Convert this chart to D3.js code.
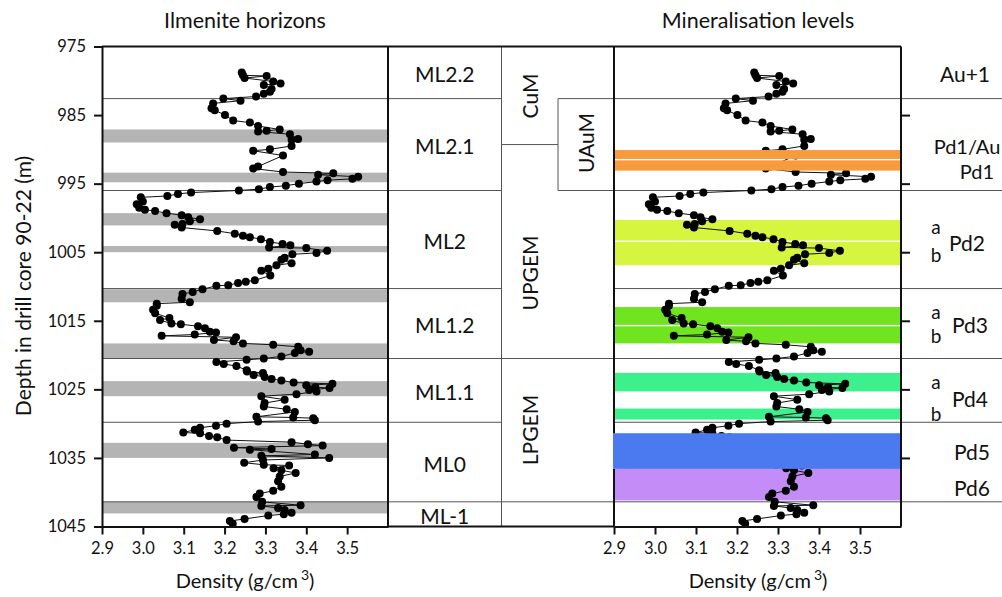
<!DOCTYPE html>
<html>
<head>
<meta charset="utf-8">
<script src="https://cdn.jsdelivr.net/npm/d3@7"></script>
<style>
  body { margin: 0; background: #fff; }
  text { font-family: Lato, "Open Sans", sans-serif; fill: #111; }
</style>
</head>
<body>
<div id="chart"></div>
<script>
// density profile (depth in m, density in g/cm3)
let depth = [978.8, 979.2, 979.3, 979.6, 980.1, 980.4, 980.6, 981.2, 981.6, 981.9, 982.3, 982.6, 982.9, 983.3, 984.0, 984.3,
  985.0, 985.8, 986.1, 986.6, 987.1, 987.3, 987.4, 987.8, 988.5, 988.6, 989.5, 990.0, 990.2, 990.9, 992.5, 992.8,
  993.3, 993.5, 993.7, 994.0, 994.3, 994.5, 994.7, 995.0, 995.3, 995.5, 995.8, 996.0, 996.3, 996.5, 996.8, 997.0,
  997.6, 998.0, 998.5, 998.8, 999.0, 999.3, 999.6, 999.9, 1000.2, 1000.5, 1000.9, 1001.0, 1001.4, 1001.9, 1002.3, 1002.6,
  1002.8, 1003.1, 1003.5, 1003.8, 1004.0, 1004.3, 1004.4, 1004.8, 1005.1, 1005.3, 1005.8, 1006.1, 1006.6, 1006.9, 1007.4, 1007.7,
  1008.4, 1009.1, 1009.3, 1009.5, 1009.8, 1009.9, 1010.4, 1010.8, 1011.1, 1011.8, 1012.3, 1012.5, 1012.8, 1013.4, 1013.9, 1014.6,
  1014.9, 1015.4, 1015.5, 1015.8, 1016.1, 1016.6, 1016.7, 1017.0, 1017.2, 1017.4, 1017.8, 1018.0, 1018.3, 1018.5, 1018.8, 1019.3,
  1019.5, 1019.7, 1020.2, 1020.5, 1020.7, 1021.0, 1021.3, 1021.6, 1022.2, 1022.4, 1022.6, 1022.9, 1023.2, 1023.5, 1023.7, 1024.0,
  1024.2, 1024.4, 1024.7, 1024.8, 1025.1, 1025.3, 1025.7, 1026.0, 1026.5, 1027.0, 1027.5, 1027.9, 1028.3, 1029.0, 1029.1, 1029.2,
  1029.5, 1029.7, 1030.0, 1030.3, 1030.6, 1030.9, 1031.3, 1031.4, 1031.8, 1032.0, 1032.4, 1032.7, 1033.0, 1033.2, 1033.5, 1033.7,
  1033.8, 1034.5, 1034.7, 1035.0, 1035.3, 1035.7, 1036.0, 1036.1, 1036.5, 1036.8, 1037.2, 1037.7, 1038.4, 1039.2, 1039.8, 1040.2,
  1040.7, 1041.4, 1041.9, 1042.0, 1042.3, 1042.6, 1043.0, 1043.2, 1043.4, 1043.9, 1044.2, 1044.6];
let density = [3.242, 3.245, 3.303, 3.249, 3.319, 3.337, 3.296, 3.315, 3.311, 3.296, 3.277, 3.197, 3.239, 3.172, 3.168, 3.176,
  3.201, 3.221, 3.262, 3.282, 3.335, 3.303, 3.282, 3.360, 3.380, 3.364, 3.364, 3.311, 3.270, 3.343, 3.282, 3.270,
  3.343, 3.466, 3.429, 3.527, 3.513, 3.452, 3.425, 3.382, 3.350, 3.311, 3.284, 3.235, 3.118, 3.086, 3.060, 2.995,
  3.000, 2.985, 2.991, 3.005, 3.030, 3.058, 3.095, 3.111, 3.140, 3.115, 3.097, 3.078, 3.095, 3.182, 3.225, 3.245,
  3.262, 3.289, 3.311, 3.342, 3.361, 3.309, 3.400, 3.451, 3.425, 3.366, 3.347, 3.339, 3.364, 3.327, 3.307, 3.290,
  3.312, 3.274, 3.252, 3.233, 3.209, 3.180, 3.146, 3.122, 3.097, 3.095, 3.115, 3.034, 3.034, 3.025, 3.030, 3.065,
  3.042, 3.070, 3.093, 3.135, 3.152, 3.164, 3.179, 3.127, 3.046, 3.228, 3.174, 3.222, 3.245, 3.319, 3.380, 3.386,
  3.407, 3.372, 3.339, 3.296, 3.254, 3.180, 3.198, 3.229, 3.254, 3.255, 3.294, 3.271, 3.298, 3.315, 3.339, 3.369,
  3.464, 3.400, 3.422, 3.457, 3.407, 3.425, 3.376, 3.290, 3.347, 3.298, 3.296, 3.352, 3.372, 3.278, 3.368, 3.417,
  3.421, 3.282, 3.205, 3.179, 3.140, 3.127, 3.099, 3.140, 3.162, 3.182, 3.205, 3.364, 3.404, 3.440, 3.223, 3.315,
  3.262, 3.421, 3.290, 3.456, 3.294, 3.248, 3.296, 3.358, 3.320, 3.339, 3.374, 3.335, 3.331, 3.339, 3.319, 3.286,
  3.278, 3.292, 3.386, 3.290, 3.331, 3.347, 3.364, 3.345, 3.307, 3.249, 3.213, 3.220];

let depthTicks = [975, 985, 995, 1005, 1015, 1025, 1035, 1045];
let densityTicks = [2.9, 3.0, 3.1, 3.2, 3.3, 3.4, 3.5];
let rightTicks = [985, 995, 1005, 1015, 1025, 1035];

// ilmenite horizons (grey bands), top/bottom depth
let ilmTop = [987.1, 993.4, 999.3, 1004.1, 1010.4, 1018.3, 1023.8, 1032.8, 1041.4];
let ilmBottom = [989.0, 994.8, 1001.1, 1005.0, 1012.3, 1020.5, 1026.0, 1035.0, 1043.1];

// magnetite layer units
let mlNames = ["ML2.2", "ML2.1", "ML2", "ML1.2", "ML1.1", "ML0", "ML-1"];
let mlTop = [975, 982.6, 996.0, 1010.3, 1020.5, 1029.8, 1041.4];
let mlBottom = [982.6, 996.0, 1010.3, 1020.5, 1029.8, 1041.4, 1045];

// mineralisation levels (coloured bands)
let levelTop = [1000.3, 1003.5, 1013.0, 1015.8, 1022.6, 1027.8, 1036.6];
let levelBottom = [1003.3, 1006.9, 1015.6, 1018.3, 1025.3, 1029.4, 1041.2];
let levelColor = ["#d5f53e", "#d5f53e", "#70e41e", "#70e41e", "#3cf08e", "#3cf08e", "#c38cf6"];
let topLevelTop = [990.1, 991.6, 1031.4];
let topLevelBottom = [991.4, 993.1, 1036.6];
let topLevelColor = ["#f89b3c", "#f89b3c", "#4a79f0"];

let svgWidth = 1002;
let svgHeight = 597;

let svg = d3.select("#chart")
  .append("svg")
  .attr("width", svgWidth)
  .attr("height", svgHeight);

let top0 = 46.5, bottom0 = 526.5;
let leftX0 = 102, leftX1 = 388;
let midX1 = 501.5, uauX = 558;
let rightX0 = 614, rightX1 = 901;

let y = d3.scaleLinear().domain([975, 1045]).range([top0, bottom0]);
let xLeft = d3.scaleLinear().domain([2.9, 3.6]).range([leftX0, leftX1]);
let xRight = d3.scaleLinear().domain([2.9, 3.6]).range([rightX0, rightX1]);

let points = depth.map((d, i) => ({ depth: d, density: density[i] }));

function hline(x0, x1, d, w) {
  svg.append("line")
    .attr("x1", x0).attr("x2", x1)
    .attr("y1", y(d)).attr("y2", y(d))
    .attr("stroke", w ? "#111" : "#555")
    .attr("stroke-width", w || 1);
}
function vline(x, d0, d1, w) {
  svg.append("line")
    .attr("x1", x).attr("x2", x)
    .attr("y1", y(d0)).attr("y2", y(d1))
    .attr("stroke", w > 1 ? "#111" : "#555")
    .attr("stroke-width", w);
}

// Left panel: grey bands
svg.selectAll(".ilm")
  .data(ilmTop)
  .enter()
  .append("rect")
  .attr("x", leftX0)
  .attr("width", leftX1 - leftX0)
  .attr("y", d => y(d))
  .attr("height", (d, i) => y(ilmBottom[i]) - y(d))
  .attr("fill", "#b4b4b4");

// Right panel: bands under the profile
svg.selectAll(".lvl")
  .data(levelTop)
  .enter()
  .append("rect")
  .attr("x", rightX0)
  .attr("width", rightX1 - rightX0)
  .attr("y", d => y(d))
  .attr("height", (d, i) => y(levelBottom[i]) - y(d))
  .attr("fill", (d, i) => levelColor[i]);

// unit boundaries
mlTop.slice(1).forEach(d => {
  hline(leftX0, midX1, d);
  hline(rightX0, svgWidth, d);
});
hline(midX1, uauX, 989.3);
hline(uauX, rightX0, 982.6);
hline(uauX, rightX0, 996.0);
hline(midX1, rightX0, 1020.5);
hline(midX1, rightX0, 1041.4);
vline(midX1, 975, 1045, 1);
vline(uauX, 982.6, 996.0, 1);

// profiles in both panels
[xLeft, xRight].forEach(x => {
  let line = d3.line().x(d => x(d.density)).y(d => y(d.depth));
  svg.append("path")
    .datum(points)
    .attr("d", line)
    .attr("fill", "none")
    .attr("stroke", "#111")
    .attr("stroke-width", 1);
  svg.append("g")
    .selectAll("circle")
    .data(points)
    .enter()
    .append("circle")
    .attr("cx", d => x(d.density))
    .attr("cy", d => y(d.depth))
    .attr("r", 4)
    .attr("fill", "#000");
});

// orange and blue levels sit on top of the points
svg.selectAll(".lvlTop")
  .data(topLevelTop)
  .enter()
  .append("rect")
  .attr("x", rightX0 - 1)
  .attr("width", rightX1 - rightX0 + 1)
  .attr("y", d => y(d))
  .attr("height", (d, i) => y(topLevelBottom[i]) - y(d))
  .attr("fill", (d, i) => topLevelColor[i]);

// frames
hline(leftX0, rightX1, 975, 2);
hline(leftX1, rightX0, 1045, 2);
vline(leftX1, 975, 1045, 2);
vline(rightX1, 975, 1045, 2);
vline(rightX0, 975, 1031.4, 2);
vline(rightX0, 1036.6, 1045, 2);

// axes
function styleAxis(g) {
  g.select(".domain").attr("stroke", "#111").attr("stroke-width", 2);
  g.selectAll(".tick line").attr("stroke", "#111").attr("stroke-width", 2);
  g.selectAll("text").attr("font-family", "Lato, sans-serif").attr("font-size", 16.5).attr("fill", "#111");
}

svg.append("g")
  .attr("transform", `translate(${leftX0}, 0)`)
  .call(d3.axisLeft(y).tickValues(depthTicks).tickSize(8).tickSizeOuter(0).tickPadding(8).tickFormat(d3.format("d")))
  .call(styleAxis);

[xLeft, xRight].forEach(x => {
  svg.append("g")
    .attr("transform", `translate(0, ${bottom0})`)
    .call(d3.axisBottom(x).tickValues(densityTicks).tickSize(8).tickSizeOuter(0).tickPadding(8).tickFormat(d3.format(".1f")))
    .call(styleAxis);
});

svg.append("g")
  .attr("transform", `translate(${rightX1}, 0)`)
  .call(d3.axisRight(y).tickValues(rightTicks).tickSize(9).tickSizeOuter(0).tickFormat(""))
  .call(g => g.select(".domain").remove())
  .call(g => g.selectAll(".tick line").attr("stroke", "#111").attr("stroke-width", 2));

// titles and axis labels
function label(x, yy, txt, size, rotate) {
  let t = svg.append("text")
    .attr("x", x).attr("y", yy)
    .attr("text-anchor", "middle")
    .attr("dominant-baseline", "central")
    .attr("font-size", size)
    .text(txt);
  if (rotate) t.attr("transform", `rotate(-90, ${x}, ${yy})`);
  return t;
}

label(245, 20, "Ilmenite horizons", 21.5);
label(758, 20, "Mineralisation levels", 21.5);
label(22, 286, "Depth in drill core 90-22 (m)", 21, true);

[[245], [758]].forEach(([cx]) => {
  let t = svg.append("text")
    .attr("x", cx).attr("y", 580)
    .attr("text-anchor", "middle")
    .attr("dominant-baseline", "central")
    .attr("font-size", 20);
  t.append("tspan").text("Density (g/cm");
  t.append("tspan").attr("font-size", 14).attr("dy", -6).attr("dx", 3).text("3");
  t.append("tspan").attr("dy", 6).text(")");
});

// ML units
mlNames.forEach((n, i) => {
  label((leftX1 + midX1) / 2, (y(mlTop[i]) + y(mlBottom[i])) / 2 + 1, n, 21);
});

label(529, 96, "CuM", 21, true);
label(585, 143, "UAuM", 21, true);
label(529, 273, "UPGEM", 21, true);
label(529, 430, "LPGEM", 21, true);

// mineralisation level names
label(965, 73, "Au+1", 21);
label(967, 146, "Pd1/Au", 20);
label(977, 171, "Pd1", 20);
label(967, 242, "Pd2", 21);
label(970, 324, "Pd3", 21);
label(970, 398, "Pd4", 21);
label(972, 451, "Pd5", 21);
label(972, 487, "Pd6", 21);

let abY = [[226, 254], [311, 335], [381, 413]];
abY.forEach(([ya, yb]) => {
  label(936, ya, "a", 19);
  label(936, yb, "b", 19);
});
</script>
</body>
</html>
